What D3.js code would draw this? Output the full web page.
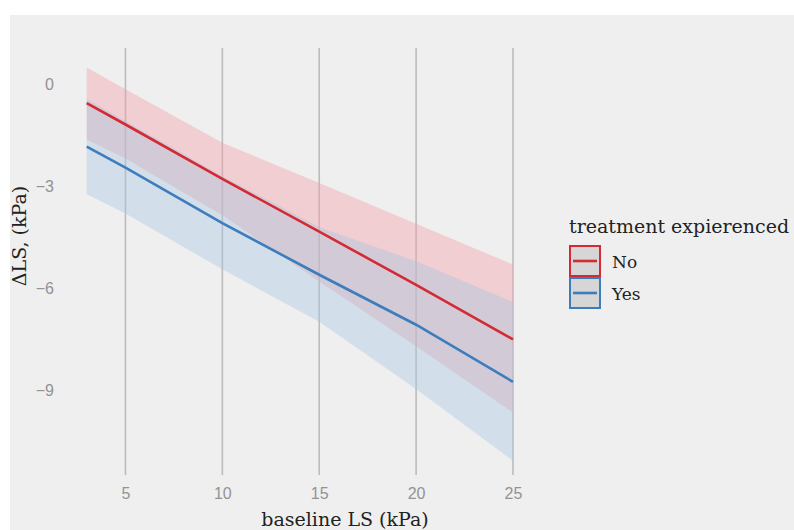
<!DOCTYPE html>
<html>
<head>
<meta charset="utf-8">
<script src="https://cdn.jsdelivr.net/npm/d3@7"></script>
<style>
  html, body { margin: 0; padding: 0; background: #ffffff; }
  svg { display: block; }
</style>
</head>
<body>
<svg id="chart" width="794" height="530"></svg>
<script>
// ---- data ----
const xValues   = [3, 5, 10, 15, 20, 25];
const noFit     = [-0.55, -1.18, -2.78, -4.33, -5.90, -7.50];
const noLower   = [-1.62, -2.18, -3.85, -5.80, -7.70, -9.65];
const noUpper   = [ 0.50, -0.14, -1.72, -2.90, -4.10, -5.30];
const yesFit    = [-1.83, -2.45, -4.08, -5.60, -7.07, -8.75];
const yesLower  = [-3.23, -3.80, -5.44, -6.98, -8.96, -11.07];
const yesUpper  = [-0.43, -1.08, -2.70, -4.20, -5.20, -6.40];
const xTicks    = [5, 10, 15, 20, 25];
const yTicks    = [0, -3, -6, -9];
const seriesNames = ["No", "Yes"];
const legendTitle = "treatment expierenced";
const xTitle = "baseline LS (kPa)";
const yTitle = "\u0394LS, (kPa)";

const colors = { No: "#d42a33", Yes: "#3d7dbd" };
const bandColors = { No: "#f2a0a6", Yes: "#a9c6e0" };

const svg = d3.select("#chart");
const W = 794, H = 530;

// panel background
svg.append("rect").attr("x", 10).attr("y", 15).attr("width", W - 10).attr("height", H - 15)
  .attr("fill", "#efefef");

const x = d3.scaleLinear().domain([1.9, 26.1]).range([65.4, 534.3]);
const y = d3.scaleLinear().domain([-11.49, 1.07]).range([475, 48]);

// vertical grid lines
svg.append("g").selectAll("line").data(xTicks).join("line")
  .attr("x1", d => x(d)).attr("x2", d => x(d))
  .attr("y1", 48).attr("y2", 475)
  .attr("stroke", "#bcbcbc").attr("stroke-width", 1.6);

const series = [
  { name: "No",  fit: noFit,  lo: noLower,  hi: noUpper },
  { name: "Yes", fit: yesFit, lo: yesLower, hi: yesUpper }
];

const area = d3.area().x(d => x(d.x)).y0(d => y(d.lo)).y1(d => y(d.hi));
const line = d3.line().x(d => x(d.x)).y(d => y(d.v));

const bands = svg.append("g");
series.forEach(s => {
  const pts = xValues.map((xv, i) => ({ x: xv, lo: s.lo[i], hi: s.hi[i] }));
  bands.append("path").datum(pts).attr("d", area)
    .attr("fill", bandColors[s.name]).attr("fill-opacity", 0.42);
});
const lines = svg.append("g");
series.forEach(s => {
  const pts = xValues.map((xv, i) => ({ x: xv, v: s.fit[i] }));
  lines.append("path").datum(pts).attr("d", line)
    .attr("fill", "none").attr("stroke", colors[s.name]).attr("stroke-width", 2.6);
});

// axes (text only, no domain lines)
const xAxis = svg.append("g").attr("transform", "translate(0,475)")
  .call(d3.axisBottom(x).tickValues(xTicks).tickSize(0).tickPadding(13));
xAxis.select(".domain").remove();
xAxis.selectAll("text").attr("font-family", "Liberation Sans, Arial, sans-serif")
  .attr("font-size", 16).attr("fill", "#939393");

const yAxis = svg.append("g").attr("transform", "translate(54,0)")
  .call(d3.axisLeft(y).tickValues(yTicks).tickSize(0).tickPadding(0)
    .tickFormat(d => d < 0 ? "\u2212" + Math.abs(d) : String(d)));
yAxis.select(".domain").remove();
yAxis.selectAll("text").attr("font-family", "Liberation Sans, Arial, sans-serif")
  .attr("font-size", 16).attr("fill", "#939393");

// axis titles
svg.append("text").attr("x", 345).attr("y", 526).attr("text-anchor", "middle")
  .attr("font-family", "DejaVu Serif, serif").attr("font-size", 19).attr("fill", "#222")
  .text(xTitle);
svg.append("text").attr("transform", "translate(26,236) rotate(-90)").attr("text-anchor", "middle")
  .attr("font-family", "DejaVu Serif, serif").attr("font-size", 19).attr("fill", "#222")
  .text(yTitle);

// legend
const lg = svg.append("g");
lg.append("text").attr("x", 569).attr("y", 233)
  .attr("font-family", "DejaVu Serif, serif").attr("font-size", 19).attr("fill", "#222")
  .text(legendTitle);
seriesNames.forEach((n, i) => {
  const top = 246 + i * 32;
  lg.append("rect").attr("x", 570).attr("y", top).attr("width", 30).attr("height", 30)
    .attr("fill", "#d6d6d6").attr("stroke", colors[n]).attr("stroke-width", 2);
  lg.append("line").attr("x1", 573).attr("x2", 597).attr("y1", top + 15).attr("y2", top + 15)
    .attr("stroke", colors[n]).attr("stroke-width", 2.6);
  lg.append("text").attr("x", 612).attr("y", top + 22)
    .attr("font-family", "DejaVu Serif, serif").attr("font-size", 17).attr("fill", "#222")
    .text(n);
});
</script>
</body>
</html>
